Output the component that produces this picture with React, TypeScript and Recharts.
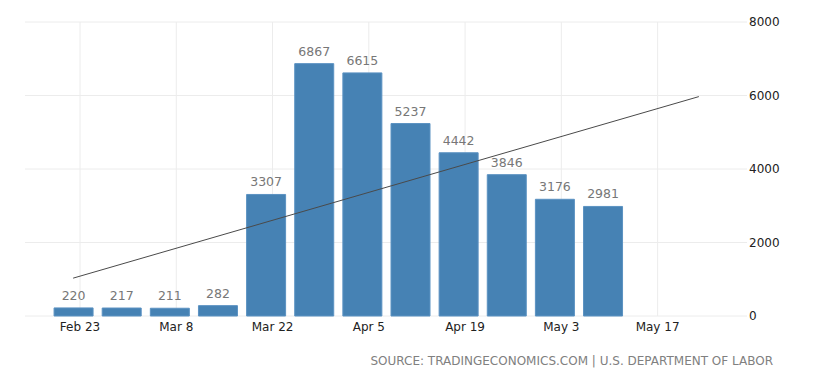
import {
  ComposedChart,
  Bar,
  Line,
  XAxis,
  YAxis,
  CartesianGrid,
  LabelList,
} from "recharts";

const WEEKS = [
  "2020-02-22", "2020-02-29", "2020-03-07", "2020-03-14",
  "2020-03-21", "2020-03-28", "2020-04-04", "2020-04-11",
  "2020-04-18", "2020-04-25", "2020-05-02", "2020-05-09",
];
const CLAIMS = [220, 217, 211, 282, 3307, 6867, 6615, 5237, 4442, 3846, 3176, 2981];

const TREND_DATES = ["2020-02-22", "2020-05-23"];
const TREND_VALUES = [1030, 5970];

const X_TICKS = [
  "2020-02-23", "2020-03-08", "2020-03-22", "2020-04-05",
  "2020-04-19", "2020-05-03", "2020-05-17",
];
const X_DOMAIN = ["2020-02-15", "2020-05-30"];
const Y_TICKS = [0, 2000, 4000, 6000, 8000];

const MONTHS = ["Jan", "Feb", "Mar", "Apr", "May", "Jun"];
const ts = (d: string) => Date.parse(d + "T00:00:00Z");

const rows = [
  ...WEEKS.map((d, i) => ({ t: ts(d), claims: CLAIMS[i] })),
  ...TREND_DATES.map((d, i) => ({ t: ts(d), trend: TREND_VALUES[i] })),
].sort((a, b) => a.t - b.t);

// merge rows sharing the same date
const data: any[] = [];
rows.forEach((r) => {
  const last = data[data.length - 1];
  if (last && last.t === r.t) Object.assign(last, r);
  else data.push({ ...r });
});

const fmtDate = (t: number) => {
  const d = new Date(t);
  return `${MONTHS[d.getUTCMonth()]} ${d.getUTCDate()}`;
};

const FONT = "'DejaVu Sans', Verdana, sans-serif";

// vertical grid only at the date ticks, not at the plot edges
const gridX = ({ offset }: any) => {
  const t0 = ts(X_DOMAIN[0]);
  const t1 = ts(X_DOMAIN[1]);
  return X_TICKS.map(
    (d) => offset.left + ((ts(d) - t0) / (t1 - t0)) * offset.width
  );
};

export default function App() {
  return (
    <div
      style={{
        position: "absolute",
        left: 0,
        top: 0,
        width: 824,
        height: 384,
        background: "#fff",
        fontFamily: FONT,
      }}
    >
      <ComposedChart
        width={824}
        height={384}
        data={data}
        margin={{ top: 22, right: 0, bottom: 38, left: 25 }}
      >
        <CartesianGrid stroke="#ececec" verticalCoordinatesGenerator={gridX} />
        <XAxis
          dataKey="t"
          type="number"
          scale="time"
          domain={[ts(X_DOMAIN[0]), ts(X_DOMAIN[1])]}
          ticks={X_TICKS.map(ts)}
          tickFormatter={fmtDate}
          axisLine={false}
          tickLine={false}
          tickSize={0}
          tickMargin={6}
          height={30}
          tick={{ fill: "#222", fontSize: 12, fontFamily: FONT }}
        />
        <YAxis
          orientation="right"
          domain={[0, 8000]}
          ticks={Y_TICKS}
          axisLine={false}
          tickLine={false}
          tickSize={0}
          tickMargin={2}
          width={77}
          tick={{ fill: "#222", fontSize: 12, fontFamily: FONT, textAnchor: "start" }}
        />
        <Bar
          dataKey="claims"
          fill="#4682b4"
          stroke="#5b92c2"
          strokeWidth={1}
          barSize={39}
          isAnimationActive={false}
        >
          <LabelList
            dataKey="claims"
            position="top"
            offset={8}
            fill="#777"
            fontSize={12.5}
            fontFamily={FONT}
          />
        </Bar>
        <Line
          dataKey="trend"
          stroke="#4a4a4a"
          strokeWidth={1}
          dot={false}
          connectNulls
          isAnimationActive={false}
        />
      </ComposedChart>
      <div
        style={{
          position: "absolute",
          right: 51,
          top: 354,
          fontSize: 12,
          color: "#808080",
          whiteSpace: "nowrap",
        }}
      >
        SOURCE: TRADINGECONOMICS.COM | U.S. DEPARTMENT OF LABOR
      </div>
    </div>
  );
}
